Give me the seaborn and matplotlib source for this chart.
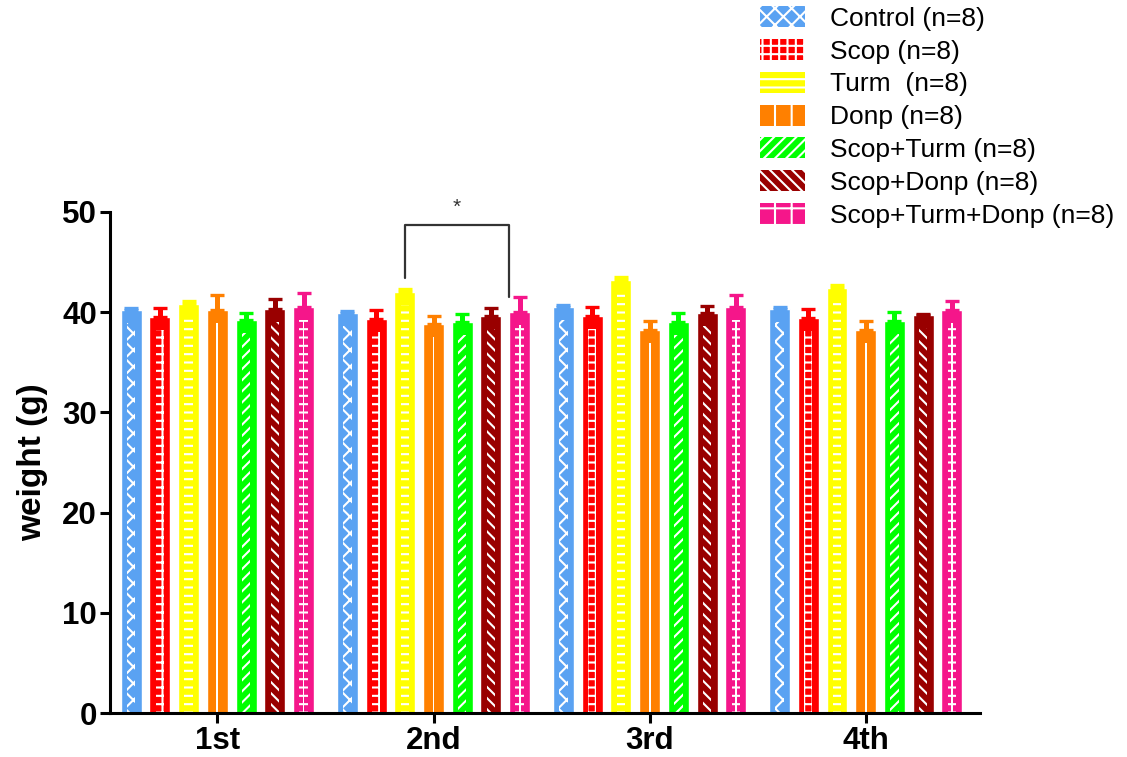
import numpy as np
import pandas as pd
import matplotlib
matplotlib.use('Agg')
import matplotlib.pyplot as plt
import seaborn as sns
from matplotlib.patches import Patch, Rectangle

sessions = ['1st', '2nd', '3rd', '4th']
groups = ['Control (n=8)', 'Scop (n=8)', 'Turm  (n=8)', 'Donp (n=8)',
          'Scop+Turm (n=8)', 'Scop+Donp (n=8)', 'Scop+Turm+Donp (n=8)']
colors = ['#5AA2F2', '#FF0000', '#FFFF00', '#FF8000', '#00FF00', '#990000', '#F5168A']
hatches = ['xx', '++', '--', '|', '///', '\\\\\\', '+']

# mean weight per group, one list per session
weight_1st = [40.2, 39.5, 40.8, 40.2, 39.2, 40.3, 40.5]
weight_2nd = [39.9, 39.3, 42.0, 38.8, 39.0, 39.6, 40.0]
weight_3rd = [40.5, 39.6, 43.2, 38.2, 39.0, 39.9, 40.5]
weight_4th = [40.3, 39.4, 42.4, 38.2, 39.1, 39.7, 40.2]

# SEM (upper error bar only)
sem_1st = [0.2, 0.9, 0.3, 1.5, 0.7, 1.0, 1.4]
sem_2nd = [0.2, 0.9, 0.3, 0.8, 0.8, 0.8, 1.5]
sem_3rd = [0.2, 0.9, 0.3, 0.9, 0.9, 0.7, 1.2]
sem_4th = [0.2, 0.9, 0.3, 0.9, 0.9, 0.1, 0.9]

weights = [weight_1st, weight_2nd, weight_3rd, weight_4th]
sems = [sem_1st, sem_2nd, sem_3rd, sem_4th]

rows = []
for s, w_list, e_list in zip(sessions, weights, sems):
    for g, w, e in zip(groups, w_list, e_list):
        rows.append({'session': s, 'group': g, 'weight': w, 'sem': e})
df = pd.DataFrame(rows)

sns.set_style('ticks', {'axes.edgecolor': 'black', 'text.color': 'black',
                        'axes.labelcolor': 'black', 'xtick.color': 'black',
                        'ytick.color': 'black'})
plt.rcParams['font.family'] = ['Liberation Sans', 'DejaVu Sans']
plt.rcParams['hatch.linewidth'] = 1.5

fig = plt.figure(figsize=(11.27, 7.57), dpi=100)
ax = fig.add_axes([0.0976, 0.0581, 0.772, 0.662])

sns.barplot(data=df, x='session', y='weight', hue='group', order=sessions,
            hue_order=groups, palette=colors, saturation=1, width=0.93, gap=0.27,
            errorbar=None, legend=False, ax=ax)
bar_containers = list(ax.containers)

# error bars and the white pattern strip in the middle of each bar
for i, container in enumerate(bar_containers):
    sub = df[df['group'] == groups[i]].set_index('session').loc[sessions]
    for bar, err in zip(container, sub['sem']):
        xc = bar.get_x() + bar.get_width() / 2
        h = bar.get_height()
        w = bar.get_width()
        ax.errorbar(xc, h, yerr=[[0], [err]], fmt='none', ecolor=colors[i],
                    elinewidth=3.6, capsize=4.7, capthick=2.4, zorder=3)
        if hatches[i] == '|' or hatches[i] == '+':
            ax.add_patch(Rectangle((xc - w * 0.045, 0), w * 0.09, h - 1.3,
                                   facecolor='white', linewidth=0, zorder=2))
        if hatches[i] != '|':
            pat = '--' if hatches[i] == '+' else hatches[i]
            ax.add_patch(Rectangle((xc - w * 0.2, 0), w * 0.4, h - 1.3,
                                   facecolor='none', edgecolor='white',
                                   hatch=pat, linewidth=0, zorder=2))

# significance bracket between Turm and Scop+Turm+Donp in the 2nd session
b_left = bar_containers[2][1]
b_right = bar_containers[6][1]
x1 = b_left.get_x() + b_left.get_width() / 2
x2 = b_right.get_x()
ax.plot([x1, x1, x2, x2], [43.4, 48.7, 48.7, 41.5], color='#333333', lw=1.6,
        clip_on=False, zorder=4)
ax.text((x1 + x2) / 2, 49.5, '*', ha='center', va='bottom', fontsize=15,
        color='#333333', clip_on=False)

ax.set_ylim(0, 50)
ax.set_yticks([0, 10, 20, 30, 40, 50])
ax.set_xlim(-0.497, 3.529)
ax.set_xlabel('')
ax.set_ylabel('weight (g)', fontsize=24, fontweight='bold')
ax.yaxis.set_label_coords(-0.071, 0.5)
sns.despine(ax=ax)
for sp in ['left', 'bottom']:
    ax.spines[sp].set_linewidth(2.2)
ax.tick_params(axis='both', width=2.2, length=7.5, labelsize=22.5, pad=2)
for lab in ax.get_xticklabels() + ax.get_yticklabels():
    lab.set_fontweight('bold')

handles = [Patch(facecolor=c, edgecolor='white', hatch=h, linewidth=0)
           for c, h in zip(colors, hatches)]
fig.legend(handles, groups, loc='upper left',
           bbox_to_anchor=(760 / 1127, 1 - 6 / 757), frameon=False,
           fontsize=19, handlelength=1.7, handleheight=0.85,
           handletextpad=0.95, labelspacing=0.31, borderpad=0,
           borderaxespad=0)

fig.savefig('out.png', dpi=100)
